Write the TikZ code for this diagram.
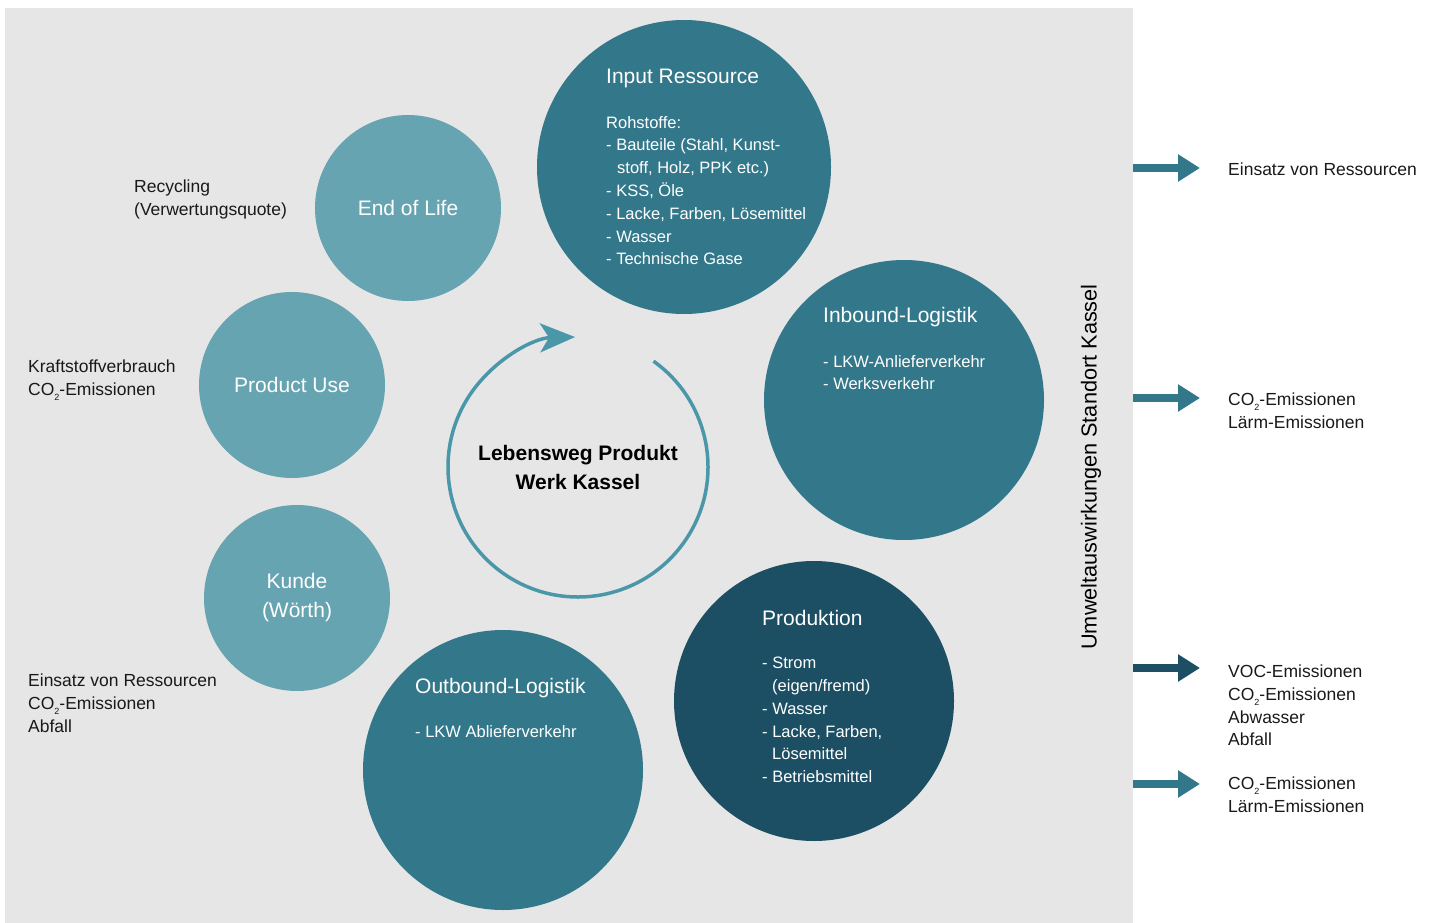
\documentclass[tikz,border=0pt]{standalone}
\usepackage{fontspec}
\setmainfont{Liberation Sans}
\usetikzlibrary{arrows.meta,positioning}
\usepackage{xcolor}

\definecolor{tealdark}{HTML}{1C4F63}
\definecolor{tealmid}{HTML}{33788A}
\definecolor{teallight}{HTML}{67A4B1}
\definecolor{tealring}{HTML}{4B97AA}
\definecolor{panelgray}{HTML}{E6E6E6}
\newcommand{\COtwo}{CO\raisebox{-0.5ex}{\fontsize{9}{9}\selectfont 2}}

\begin{document}
\begin{tikzpicture}[
    x=1pt, y=-1pt,
    bigcirc/.style={circle, minimum size=280pt, inner sep=0pt},
    smallcirc/.style={circle, fill=teallight, minimum size=186pt, inner sep=0pt, text=white, align=center, font=\fontsize{21}{29}\selectfont},
    title/.style={anchor=west, inner sep=0pt, text=white, font=\fontsize{21}{25}\selectfont},
    body/.style={anchor=north west, inner sep=0pt, align=left, text=white, font=\fontsize{16.5}{22.8}\selectfont},
    note/.style={anchor=north west, inner sep=0pt, align=left, text=black!90, font=\fontsize{17.5}{22.7}\selectfont},
    outarrow/.style={-{Triangle[length=22pt,width=26pt]}, line width=8pt, draw=tealmid}
]
\useasboundingbox (0,0) rectangle (1435,923);
\fill[panelgray] (5,8) rectangle (1133,923);

% life cycle stations
\node (input) [bigcirc, fill=tealmid, minimum size=294pt] at (684,167) {};
\node (inbound) [bigcirc, fill=tealmid] at (904,400) {};
\node (prod) [bigcirc, fill=tealdark] at (814,701) {};
\node (outbound) [bigcirc, fill=tealmid] at (503,770) {};
\node (kunde) [smallcirc] at (297,598) {Kunde\\(Wörth)};
\node (use) [smallcirc] at (292,385) {Product Use};
\node (eol) [smallcirc] at (408,208) {End of Life};

% texts inside the big circles
\node (inputTitle) [title] at (606,78) {Input Ressource};
\node (inputList) [body] at (606,116) {Rohstoffe:\\- Bauteile (Stahl, Kunst-\\\hspace*{11pt}stoff, Holz, PPK etc.)\\- KSS, Öle\\- Lacke, Farben, Lösemittel\\- Wasser\\- Technische Gase};
\node (inboundTitle) [title] at (823,317) {Inbound-Logistik};
\node (inboundList) [body] at (823,355) {- LKW-Anlieferverkehr\\- Werksverkehr};
\node (prodTitle) [title] at (762,618) {Produktion};
\node (prodList) [body] at (762,657) {- Strom\\\hspace*{10pt}(eigen/fremd)\\- Wasser\\- Lacke, Farben,\\\hspace*{10pt}Lösemittel\\- Betriebsmittel};
\node (outboundTitle) [title] at (415,688) {Outbound-Logistik};
\node (outboundList) [body] at (415,725) {- LKW Ablieferverkehr};

% centre with ring arrow
\coordinate (hub) at (578,467);
\node (core) [align=center, font=\fontsize{21}{29}\selectfont\bfseries] at (hub) {Lebensweg Produkt\\Werk Kassel};
\draw[tealring, line width=3.5pt, -{Stealth[length=35pt,width=29pt,inset=9pt]}]
    ([shift={(-54.5:130)}]hub) arc[start angle=-54.5, end angle=268.7, radius=130];

% notes next to the small circles
\node (eolNote) [note] at (134,180) {Recycling\\(Verwertungsquote)};
\node (useNote) [note] at (28,360) {Kraftstoffverbrauch\\\COtwo-Emissionen};
\node (kundeNote) [note] at (28,674) {Einsatz von Ressourcen\\\COtwo-Emissionen\\Abfall};

% impacts at the site
\node (impact) [rotate=90, font=\fontsize{21.7}{26}\selectfont] at (1091,467) {Umweltauswirkungen Standort Kassel};

\coordinate (s1) at (1133,168); \coordinate (t1) at (1200,168);
\coordinate (s2) at (1133,398); \coordinate (t2) at (1200,398);
\coordinate (s3) at (1133,668); \coordinate (t3) at (1200,668);
\coordinate (s4) at (1133,784); \coordinate (t4) at (1200,784);
\draw[outarrow] (s1) -- (t1);
\draw[outarrow] (s2) -- (t2);
\draw[outarrow, draw=tealdark] (s3) -- (t3);
\draw[outarrow] (s4) -- (t4);

\node (res1) [note] at (1228,163) {Einsatz von Ressourcen};
\node (res2) [note] at (1228,393) {\COtwo-Emissionen\\Lärm-Emissionen};
\node (res3) [note] at (1228,665) {VOC-Emissionen\\\COtwo-Emissionen\\Abwasser\\Abfall};
\node (res4) [note] at (1228,777) {\COtwo-Emissionen\\Lärm-Emissionen};
\end{tikzpicture}
\end{document}
